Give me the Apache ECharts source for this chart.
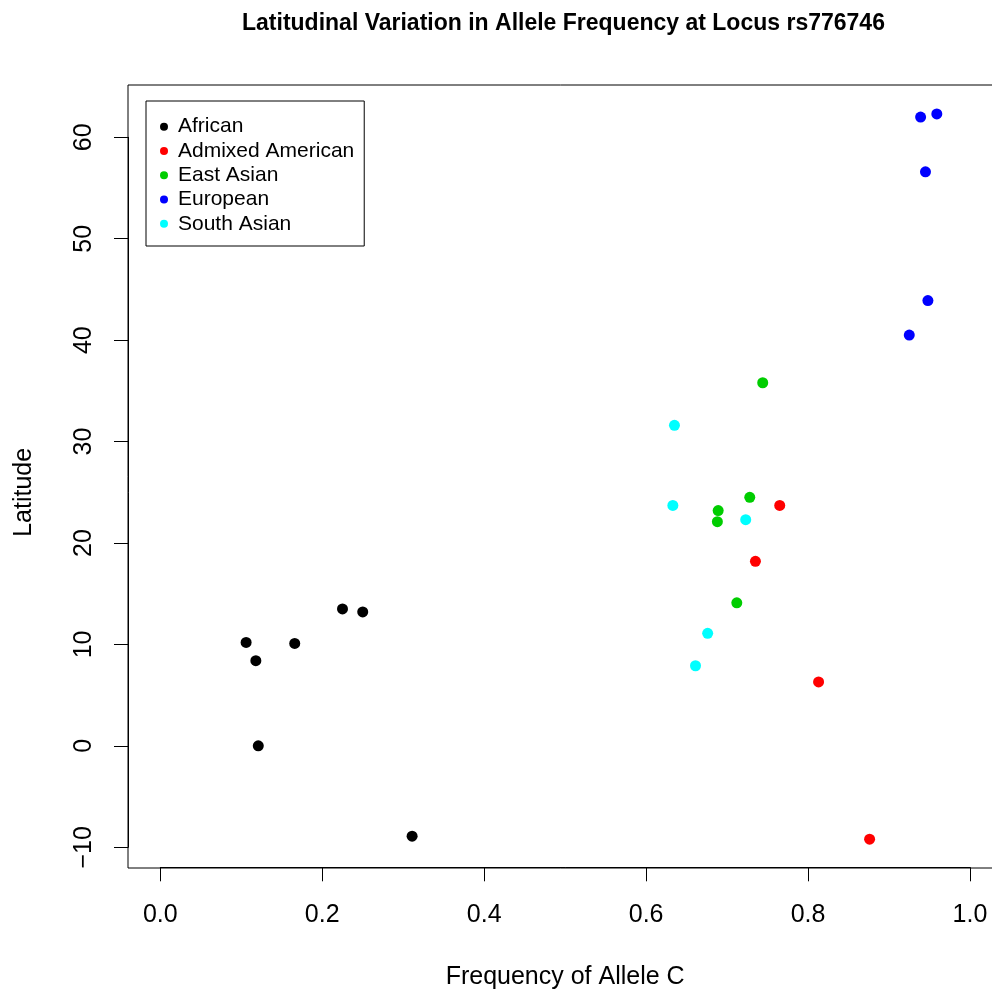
<!DOCTYPE html>
<html style="height: 100%">
<head lang="en">
    <meta charset="UTF-8" />
    <title>rs776746</title>
    <style>
        html, body {margin: 0; padding: 0; background: #fff;}
    </style>
</head>
<body>
    <div id="main" style="width:992px;height:990px;"></div>

    <script src="https://cdn.jsdelivr.net/npm/echarts@6/dist/echarts.min.js"></script>
    <script>
        /* data: [frequency of allele C, latitude] */
        var african = [[0.106, 10.2], [0.118, 8.4], [0.166, 10.1], [0.225, 13.5], [0.250, 13.2], [0.121, 0.0], [0.311, -8.9]];
        var admixedAmerican = [[0.765, 23.7], [0.735, 18.2], [0.813, 6.3], [0.876, -9.2]];
        var eastAsian = [[0.744, 35.8], [0.728, 24.5], [0.689, 23.2], [0.688, 22.1], [0.712, 14.1]];
        var european = [[0.939, 62.0], [0.959, 62.3], [0.945, 56.6], [0.948, 43.9], [0.925, 40.5]];
        var southAsian = [[0.635, 31.6], [0.633, 23.7], [0.723, 22.3], [0.676, 11.1], [0.661, 7.9]];

        var groupNames = ['African', 'Admixed American', 'East Asian', 'European', 'South Asian'];
        var groupData = [african, admixedAmerican, eastAsian, european, southAsian];
        var colors = ['#000000', '#ff0000', '#00cd00', '#0000ff', '#00ffff'];

        var xTicks = [0, 1, 0.2];     // min, max, step
        var yTicks = [-10, 60, 10];

        var font = '"Liberation Sans", Arial, Helvetica, sans-serif';

        var app = echarts.init(document.getElementById('main'));

        var series = [];
        for (var i = 0; i < groupNames.length; i++) {
            series.push({
                name: groupNames[i],
                type: 'scatter',
                xAxisIndex: 1,
                yAxisIndex: 1,
                symbol: 'circle',
                symbolSize: 11,
                clip: false,
                itemStyle: {color: colors[i], opacity: 1},
                emphasis: {disabled: true},
                data: groupData[i]
            });
        }

        var option = {
            animation: false,
            color: colors,
            textStyle: {fontFamily: font, color: '#000'},
            title: {
                text: 'Latitudinal Variation in Allele Frequency at Locus rs776746',
                left: 242,
                top: 12,
                padding: 0,
                textStyle: {fontFamily: font, fontSize: 23, fontWeight: 'bold', color: '#000'}
            },
            legend: {
                orient: 'vertical',
                left: 146,
                top: 101,
                padding: [13.5, 10, 10, 14],
                borderColor: '#000',
                borderWidth: 1,
                itemWidth: 18,
                itemHeight: 8,
                itemGap: 0,
                icon: 'circle',
                selectedMode: false,
                textStyle: {fontFamily: font, fontSize: 21, lineHeight: 24.3, color: '#000'},
                data: groupNames
            },
            grid: [
                // outer plot box
                {left: 128, top: 85, width: 874, height: 783, show: true, borderColor: '#000', borderWidth: 1,
                 backgroundColor: 'transparent', outerBoundsMode: 'none', containLabel: false},
                // tick range
                {left: 160.3, top: 137.3, width: 809.7, height: 710, outerBoundsMode: 'none', containLabel: false}
            ],
            xAxis: [
                {gridIndex: 0, type: 'value', min: 0, max: 1, show: false},
                {
                    gridIndex: 1,
                    type: 'value',
                    position: 'bottom',
                    min: xTicks[0],
                    max: xTicks[1],
                    interval: xTicks[2],
                    offset: 20,
                    name: 'Frequency of Allele C',
                    nameLocation: 'middle',
                    nameGap: 97,
                    nameTextStyle: {fontFamily: font, fontSize: 25, color: '#000'},
                    axisLine: {show: true, onZero: false, lineStyle: {color: '#000', width: 1}},
                    axisTick: {show: true, length: 14, lineStyle: {color: '#000', width: 1}},
                    axisLabel: {
                        fontFamily: font, fontSize: 25, color: '#000', margin: 35,
                        formatter: function (v) { return v.toFixed(1); }
                    },
                    splitLine: {show: false}
                }
            ],
            yAxis: [
                {gridIndex: 0, type: 'value', min: 0, max: 1, show: false},
                {
                    gridIndex: 1,
                    type: 'value',
                    position: 'left',
                    min: yTicks[0],
                    max: yTicks[1],
                    interval: yTicks[2],
                    offset: 32.3,
                    name: 'Latitude',
                    nameLocation: 'middle',
                    nameGap: 91,
                    nameRotate: 90,
                    nameTextStyle: {fontFamily: font, fontSize: 25, color: '#000'},
                    axisLine: {show: true, onZero: false, lineStyle: {color: '#000', width: 1}},
                    axisTick: {show: true, length: 14, lineStyle: {color: '#000', width: 1}},
                    axisLabel: {
                        fontFamily: font, fontSize: 25, color: '#000', margin: 31, rotate: 90,
                        formatter: function (v) { return String(v).replace('-', '\u2212'); }
                    },
                    splitLine: {show: false}
                }
            ],
            series: series
        };
        app.setOption(option);
    </script>
</body>
</html>
